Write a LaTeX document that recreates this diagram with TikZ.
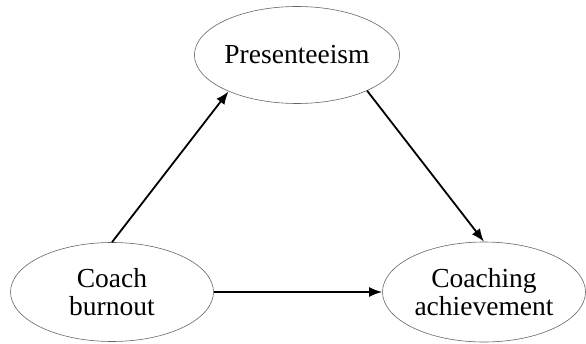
\documentclass[tikz,border=0pt]{standalone}
\usepackage{fontspec}
\setmainfont{Liberation Serif}
\usepackage{tikz}
\usetikzlibrary{shapes.geometric, arrows.meta, positioning}

\tikzset{
  factor/.style={ellipse, draw=black!60, line width=0.6pt, inner sep=0pt,
    minimum width=203pt, minimum height=99pt, align=center,
    font=\fontsize{27.5}{28}\selectfont},
  path/.style={-{Latex[length=13pt,width=10pt]}, line width=1.8pt}
}

\begin{document}
\begin{tikzpicture}[x=1pt,y=1pt]
        \useasboundingbox (0,0) rectangle (586,343);
        \node[factor, minimum width=202pt, minimum height=97pt] (P) at (297,288) {Presenteeism};
        \node[factor] (B) at (112,51) {Coach\\burnout};
        \node[factor, minimum height=100pt] (A) at (484,51) {Coaching\\achievement};
        \draw[path] (B.north) to (P.208);
        \draw[path] (P.333) to (A.north);
        \draw[path] (B.east) to (A.west);
    \end{tikzpicture}
\end{document}
